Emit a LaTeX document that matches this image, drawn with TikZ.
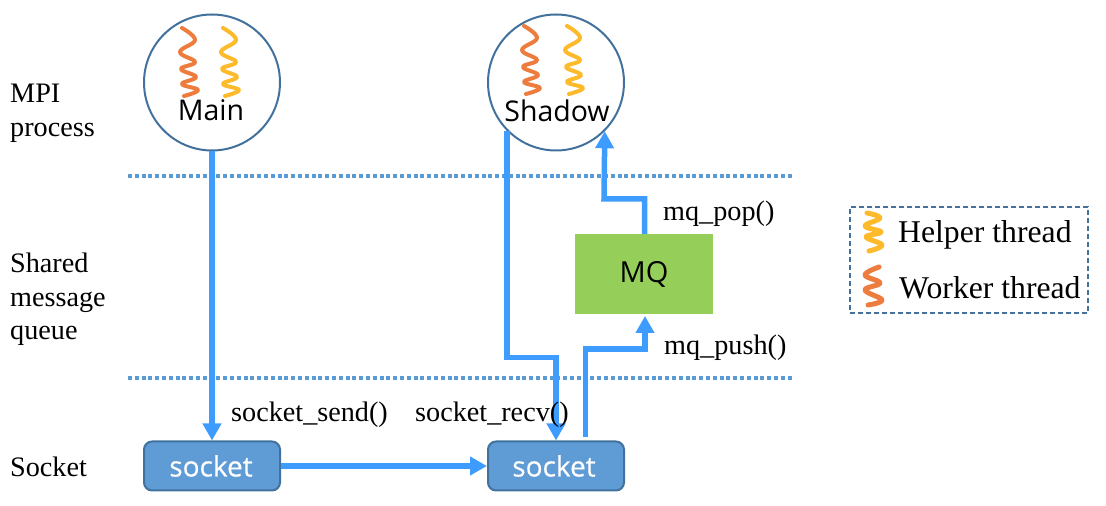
\documentclass[tikz,border=0pt]{standalone}
\usepackage{fontspec}
\setmainfont{Liberation Serif}
\newfontfamily\uifont{Open Sans}
\newfontfamily\uiheavy[FakeBold=0.4]{Open Sans}
\usetikzlibrary{arrows.meta}
\definecolor{flow}{HTML}{3E9CFF}
\definecolor{rim}{HTML}{41719C}
\definecolor{sockfill}{HTML}{5F9CD6}
\definecolor{mqfill}{HTML}{95CF5A}
\definecolor{worker}{HTML}{ED7D3F}
\definecolor{helper}{HTML}{FDBB2B}
\definecolor{sepline}{HTML}{5B9BD5}
\newcommand{\squiggle}[3]{% x,y,colour
  \draw[#3,squig]
    plot[smooth,tension=0.7] coordinates {
      ({#1+0},{#2-0}) ({#1+13},{#2-12}) ({#1-2},{#2-24})
      ({#1+13},{#2-34}) ({#1-1},{#2-41}) ({#1+14},{#2-49})
      ({#1+0},{#2-56}) ({#1+16},{#2-62}) ({#1+2},{#2-68})};}
\tikzset{
  x=1pt,y=1pt,
  squig/.style={line width=4pt,line cap=round,line join=round},
  flowline/.style={draw=flow,line width=5.5pt},
  flowarrow/.style={flowline,-{Triangle[width=18pt,length=17pt]}},
  sepdots/.style={draw=sepline,line width=3.4pt,dash pattern=on 4pt off 2.8pt},
  procnode/.style={circle,draw=rim,line width=2pt,minimum size=136pt,inner sep=0pt},
  socknode/.style={draw=rim,line width=2pt,fill=sockfill,rounded corners=8pt,minimum width=136pt,minimum height=49pt,inner sep=0pt,text=white,font=\uiheavy\fontsize{28}{30}\selectfont},
  mqnode/.style={fill=mqfill,minimum width=138pt,minimum height=80pt,inner sep=0pt,font=\uifont\fontsize{29}{30}\selectfont},
  uilabel/.style={font=\uifont\fontsize{28.5}{30}\selectfont,inner sep=0pt},
  lab/.style={anchor=base west,inner sep=0pt,font=\fontsize{28.2}{32}\selectfont},
  legendbox/.style={draw=rim,line width=1.6pt,dash pattern=on 5pt off 3pt,minimum width=238pt,minimum height=106pt,inner sep=0pt},
}
\begin{document}
\begin{tikzpicture}
\useasboundingbox (0,0) rectangle (1106,506);
% separators
\coordinate (sepAl) at (128,330); \coordinate (sepAr) at (793,330);
\coordinate (sepBl) at (128,128); \coordinate (sepBr) at (793,128);
\draw[sepdots] (sepAl) -- (sepAr);
\draw[sepdots] (sepBl) -- (sepBr);
% nodes
\node[procnode] (main) at (212,423.5) {};
\node[procnode] (shadow) at (556,423.5) {};
\node[socknode] (sockA) at (212,40) {\kern-2pt socket};
\node[socknode] (sockB) at (556,40) {\kern-4pt socket};
\node[mqnode] (mq) at (644,232) {\raisebox{-2.5pt}{MQ}};
\node[legendbox] (legend) at (969,246) {};
% threads
\squiggle{182}{478}{worker}
\squiggle{223}{478}{helper}
\squiggle{524}{480}{worker}
\squiggle{567}{480}{helper}
\draw[helper,squig,line width=5pt] plot[smooth,tension=0.7] coordinates {(867,293) (880,288) (865,280) (881,274) (866,269) (882,261) (869,255)};
\draw[worker,squig,line width=5pt] plot[smooth,tension=0.7] coordinates {(879,239) (865,231) (880,223) (865,216) (882,206) (868,201)};
\node[uilabel] (mainlab) at (211,396) {Main};
\node[uilabel] (shadowlab) at (557,395) {Shadow};
% connectors
\path (shadow.225) ++(0,-226) coordinate (bendA);
\coordinate (bendB) at (bendA -| sockB.north);
\coordinate (startC) at (585.5,69);
\coordinate (bendC) at (585.5,157);
\coordinate (bendD) at (645,157);
\coordinate (endD) at (645,190);
\coordinate (bendE) at (644.5,307);
\coordinate (bendF) at (604,307);
\draw[flowarrow] (main.south) -- (sockA.north);
\draw[flowarrow] (sockA.east) -- (sockB.west);
\draw[flowarrow] (shadow.225) -- (bendA) -- (bendB) -- (sockB.north);
\draw[flowarrow] (startC) -- (bendC) -- (bendD) -- (endD);
\draw[flowarrow] (mq.north -| bendE) -- (bendE) -- (bendF) -- (shadow.-45);
% labels
\node[lab] (t1) at (10,403) {MPI};
\node[lab] (t2) at (10,369) {process};
\node[lab] (t3) at (10,233.5) {Shared};
\node[lab] (t4) at (10,199.5) {message};
\node[lab] (t5) at (10,166) {queue};
\node[lab] (t6) at (10,29.5) {Socket};
\node[lab] (t7) at (231,84) {socket\_send()};
\node[lab] (t8) at (415,84) {socket\_recv()};
\node[lab] (t9) at (664,151) {mq\_push()};
\node[lab] (t10) at (663,285) {mq\_pop()};
\node[lab,font=\fontsize{31.7}{36}\selectfont] (t11) at (898,263) {Helper thread};
\node[lab,font=\fontsize{31.7}{36}\selectfont] (t12) at (899,207) {Worker thread};
\end{tikzpicture}
\end{document}
